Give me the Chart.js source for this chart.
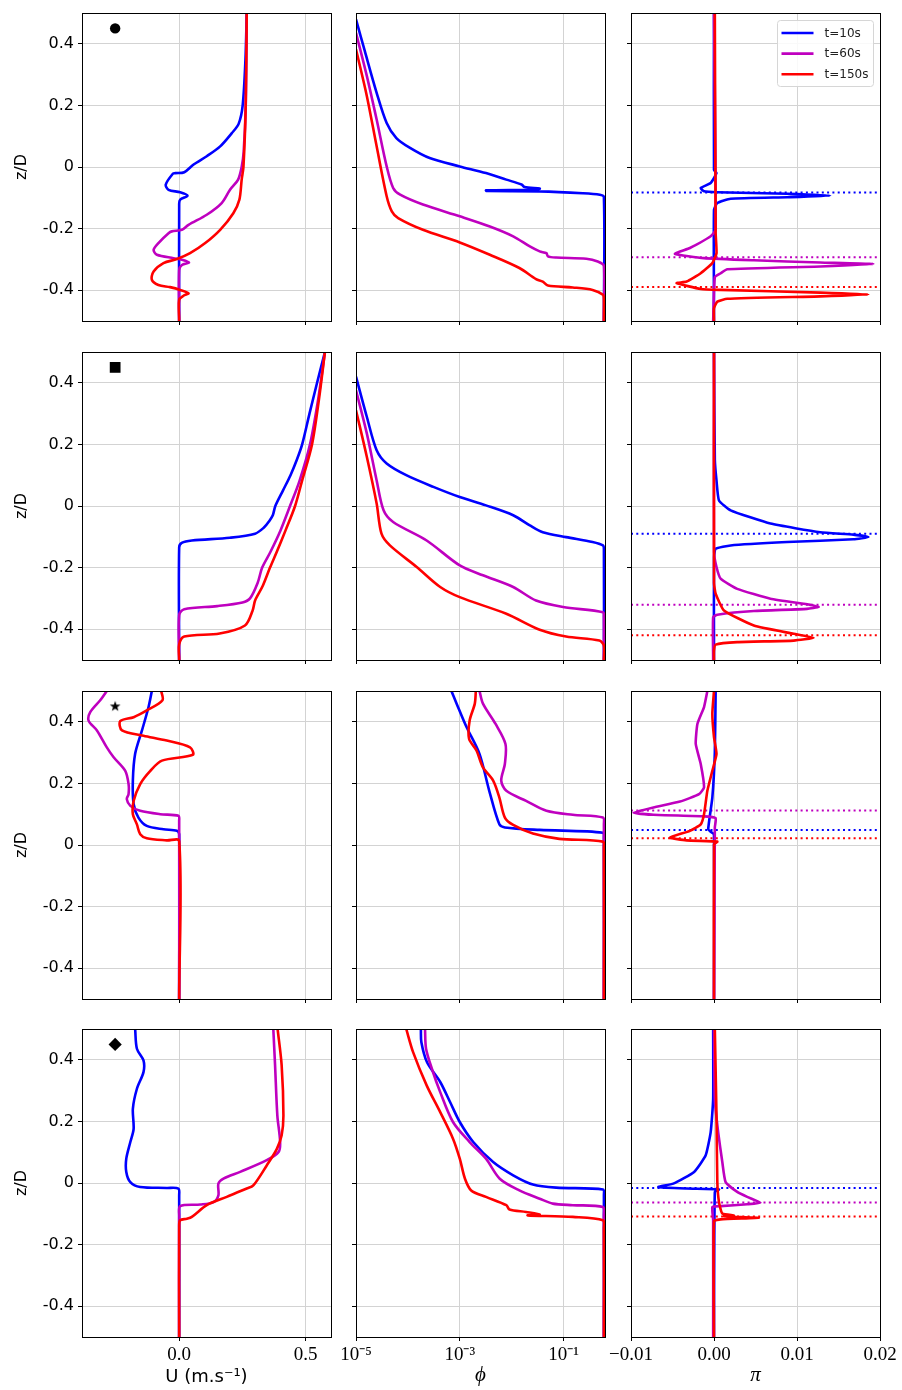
<!DOCTYPE html>
<html>
<head>
<meta charset="utf-8">
<script src="https://cdn.jsdelivr.net/npm/chart.js@4.4.1/dist/chart.umd.min.js"></script>
<style>
  body { margin: 0; background: #fff; width: 902px; height: 1390px; position: relative; overflow: hidden; }
  canvas { position: absolute; }
</style>
</head>
<body>
<script>
// ---- data (pairs are [value, z/D]) ----
const seriesLabels = ['t=10s', 't=60s', 't=150s'];
const seriesColors = ['#0000ff', '#bf00bf', '#ff0000'];

const zTicks = [-0.4, -0.2, 0, 0.2, 0.4];
const zTickLabels = ['-0.4', '-0.2', '0', '0.2', '0.4'];
const uTicks = [0, 0.5];
const uTickLabels = ['0.0', '0.5'];
const phiTicks = [1e-5, 1e-3, 1e-1];
const phiTickLabels = ['10⁻⁵', '10⁻³', '10⁻¹'];
const piTicks = [-0.01, 0, 0.01, 0.02];
const piTickLabels = ['−0.01', '0.00', '0.01', '0.02'];

// row 1 (circle)
const uC10 = [[0.267,0.5],[0.262,0.35],[0.251,0.2],[0.235,0.14],[0.208,0.11],[0.162,0.067],[0.109,0.035],[0.057,0.008],[0.02,-0.017],[-0.016,-0.02],[-0.025,-0.022],[-0.053,-0.057],[-0.042,-0.074],[0.004,-0.082],[0.033,-0.093],[0.004,-0.106],[0,-0.12],[0,-0.5]];
const uC60 = [[0.267,0.5],[0.263,0.2],[0.255,0.05],[0.247,0],[0.233,-0.041],[0.201,-0.074],[0.168,-0.117],[0.109,-0.155],[0.037,-0.188],[0.011,-0.204],[-0.029,-0.209],[-0.042,-0.215],[-0.082,-0.247],[-0.101,-0.269],[-0.088,-0.285],[-0.022,-0.296],[0.011,-0.301],[0.039,-0.31],[0.011,-0.318],[0,-0.334],[0,-0.5]];
const uC150 = [[0.267,0.5],[0.263,0.2],[0.254,0],[0.247,-0.041],[0.238,-0.106],[0.214,-0.15],[0.162,-0.204],[0.103,-0.247],[0.043,-0.28],[-0.009,-0.299],[-0.062,-0.312],[-0.101,-0.339],[-0.108,-0.366],[-0.082,-0.383],[-0.036,-0.39],[0.004,-0.399],[0.037,-0.41],[0.017,-0.418],[0,-0.431],[0,-0.5]];
const phiC10 = [[1.0e-5,0.479],[1.48e-5,0.376],[2.5e-5,0.241],[3.9e-5,0.143],[6.0e-5,0.094],[1.1e-4,0.062],[2.63e-4,0.029],[1.0e-3,0.002],[3.2e-3,-0.0195],[7.9e-3,-0.041],[1.55e-2,-0.057],[1.78e-2,-0.065],[3.47e-2,-0.07],[2.8e-2,-0.073],[3.2e-3,-0.076],[3.3e-3,-0.078],[3.47e-2,-0.079],[0.234,-0.085],[0.5,-0.09],[0.6,-0.097],[0.6,-0.5]];
const phiC60 = [[1.0e-5,0.436],[1.62e-5,0.295],[2.5e-5,0.154],[3.9e-5,0.002],[5.2e-5,-0.068],[7.1e-5,-0.09],[1.95e-4,-0.122],[1.0e-3,-0.16],[3.8e-3,-0.193],[1.07e-2,-0.225],[2.24e-2,-0.258],[3.47e-2,-0.274],[4.68e-2,-0.28],[5.0e-2,-0.29],[7.2e-2,-0.294],[0.275,-0.298],[0.457,-0.307],[0.6,-0.321],[0.6,-0.5]];
const phiC150 = [[1.0e-5,0.382],[1.62e-5,0.23],[2.5e-5,0.067],[3.9e-5,-0.095],[4.9e-5,-0.144],[6.5e-5,-0.166],[1.95e-4,-0.204],[1.0e-3,-0.245],[3.8e-3,-0.285],[1.41e-2,-0.328],[2.95e-2,-0.364],[3.98e-2,-0.372],[5.0e-2,-0.385],[0.151,-0.391],[0.363,-0.399],[0.575,-0.415],[0.6,-0.43],[0.6,-0.5]];
const piC10 = [[0,0.5],[0,-0.01],[0.0003,-0.0195],[-0.0004,-0.052],[-0.0016,-0.068],[-0.0012,-0.079],[0.0004,-0.082],[0.0088,-0.087],[0.014,-0.093],[0.0088,-0.098],[0.002,-0.103],[0.0004,-0.117],[0,-0.139],[0,-0.5]];
const piC60 = [[0,0.5],[0.0002,-0.204],[-0.0004,-0.225],[-0.0029,-0.263],[-0.0047,-0.282],[-0.0012,-0.296],[0.0048,-0.303],[0.0128,-0.31],[0.0192,-0.315],[0.0128,-0.323],[0.0016,-0.332],[0.0008,-0.345],[0.0001,-0.358],[-0.0001,-0.5]];
const piC150 = [[0.0001,0.5],[0.0002,-0.215],[0.0003,-0.28],[-0.0002,-0.312],[-0.0016,-0.345],[-0.0033,-0.372],[-0.0045,-0.377],[-0.0016,-0.396],[0.0008,-0.399],[0.0128,-0.408],[0.0186,-0.414],[0.0128,-0.42],[0.0016,-0.428],[0.0004,-0.437],[0,-0.459],[0,-0.5]];
const piLevC = [-0.083, -0.293, -0.39];

// row 2 (square)
const uS10 = [[0.576,0.5],[0.545,0.4],[0.515,0.3],[0.486,0.2],[0.465,0.15],[0.44,0.1],[0.41,0.05],[0.38,0.0],[0.37,-0.03],[0.355,-0.05],[0.335,-0.07],[0.3,-0.09],[0.2,-0.103],[0.05,-0.112],[0.01,-0.12],[0,-0.135],[0,-0.5]];
const uS60 = [[0.576,0.5],[0.55,0.35],[0.517,0.2],[0.475,0.08],[0.438,0],[0.4,-0.08],[0.36,-0.15],[0.328,-0.2],[0.31,-0.25],[0.28,-0.3],[0.25,-0.313],[0.15,-0.325],[0.02,-0.335],[0,-0.354],[0,-0.5]];
const uS150 = [[0.576,0.5],[0.553,0.35],[0.525,0.2],[0.485,0.08],[0.458,0],[0.42,-0.08],[0.385,-0.15],[0.359,-0.2],[0.33,-0.26],[0.3,-0.307],[0.29,-0.34],[0.26,-0.388],[0.16,-0.414],[0.02,-0.424],[0,-0.45],[0,-0.5]];
const phiS10 = [[1.0e-5,0.42],[1.62e-5,0.289],[2.5e-5,0.181],[3.9e-5,0.138],[9.3e-5,0.1],[3.1e-4,0.062],[1.0e-3,0.029],[3.2e-3,0.002],[1.07e-2,-0.03],[2.24e-2,-0.063],[3.98e-2,-0.085],[0.112,-0.101],[0.363,-0.117],[0.575,-0.128],[0.6,-0.14],[0.6,-0.5]];
const phiS60 = [[1.0e-5,0.376],[1.62e-5,0.235],[2.5e-5,0.083],[3.4e-5,-0.014],[5.2e-5,-0.052],[2.3e-4,-0.112],[1.0e-3,-0.193],[2.8e-3,-0.225],[1.07e-2,-0.263],[2.95e-2,-0.307],[9.8e-2,-0.328],[0.575,-0.345],[0.6,-0.36],[0.6,-0.5]];
const phiS150 = [[1.0e-5,0.311],[1.62e-5,0.159],[2.5e-5,0.008],[3.1e-5,-0.09],[4.5e-5,-0.128],[1.48e-4,-0.198],[4.2e-4,-0.263],[1.0e-3,-0.296],[7.9e-3,-0.35],[3.47e-2,-0.402],[0.112,-0.424],[0.49,-0.437],[0.6,-0.453],[0.6,-0.5]];
const piS10 = [[0,0.5],[0.0001,0.15],[0.0003,0.083],[0.0006,0.018],[0.002,-0.014],[0.0068,-0.057],[0.0128,-0.085],[0.0168,-0.093],[0.0186,-0.101],[0.0168,-0.108],[0.0088,-0.117],[0.002,-0.128],[0.0002,-0.139],[0,-0.166],[0,-0.5]];
const piS60 = [[0,0.5],[0,-0.15],[0.0003,-0.198],[0.0008,-0.236],[0.0028,-0.269],[0.0068,-0.301],[0.0116,-0.321],[0.0126,-0.328],[0.0112,-0.334],[0.0048,-0.341],[0.0004,-0.353],[-0.0001,-0.361],[-0.0001,-0.5]];
const piS150 = [[0,0.5],[0,-0.25],[0.0002,-0.285],[0.0012,-0.339],[0.0048,-0.388],[0.0096,-0.415],[0.012,-0.428],[0.0096,-0.437],[0.0028,-0.442],[0.0002,-0.45],[0,-0.47],[0,-0.5]];
const piLevS = [-0.09, -0.321, -0.42];

// row 3 (star)
const uT10 = [[-0.108,0.5],[-0.121,0.448],[-0.147,0.372],[-0.174,0.296],[-0.183,0.209],[-0.18,0.133],[-0.161,0.089],[-0.128,0.062],[-0.062,0.051],[-0.009,0.046],[0,0.035],[0,-0.5]];
const uT60 = [[-0.286,0.5],[-0.312,0.47],[-0.351,0.432],[-0.358,0.404],[-0.325,0.372],[-0.286,0.317],[-0.259,0.285],[-0.213,0.241],[-0.2,0.198],[-0.2,0.165],[-0.207,0.149],[-0.193,0.127],[-0.154,0.111],[-0.075,0.1],[-0.003,0.095],[0,0.078],[0,-0.5]];
const uT150 = [[-0.071,0.5],[-0.066,0.47],[-0.128,0.437],[-0.18,0.415],[-0.233,0.402],[-0.226,0.372],[-0.141,0.355],[-0.049,0.339],[0.043,0.317],[0.054,0.293],[-0.068,0.274],[-0.114,0.241],[-0.154,0.198],[-0.18,0.143],[-0.183,0.1],[-0.167,0.067],[-0.154,0.035],[-0.128,0.022],[-0.049,0.015],[0,0.013],[0,-0.5]];
const phiT10 = [[6.9e-4,0.5],[8.7e-4,0.459],[1.35e-3,0.383],[2.4e-3,0.296],[3.7e-3,0.176],[5.8e-3,0.067],[7.4e-3,0.057],[3.47e-2,0.049],[0.575,0.04],[0.6,0.024],[0.6,-0.5]];
const phiT60 = [[2.4e-3,0.5],[2.8e-3,0.459],[4.9e-3,0.393],[7.6e-3,0.328],[7.4e-3,0.263],[6.3e-3,0.209],[7.9e-3,0.176],[1.9e-2,0.143],[4.68e-2,0.111],[0.151,0.098],[0.575,0.089],[0.6,0.067],[0.6,-0.5]];
const phiT150 = [[2.04e-3,0.5],[1.95e-3,0.459],[1.55e-3,0.404],[1.51e-3,0.345],[2.1e-3,0.307],[2.8e-3,0.252],[4.4e-3,0.209],[5.8e-3,0.154],[7.4e-3,0.089],[1.07e-2,0.065],[2.57e-2,0.037],[8.3e-2,0.02],[0.575,0.011],[0.6,-0.009],[0.6,-0.5]];
const piT10 = [[0.0002,0.5],[0.0001,0.3],[-0.0002,0.154],[-0.0007,0.051],[-0.0004,0.043],[0,0.035],[0,-0.5]];
const piT60 = [[-0.0008,0.5],[-0.0012,0.448],[-0.002,0.393],[-0.0022,0.328],[-0.0016,0.263],[-0.0012,0.187],[-0.0018,0.165],[-0.0041,0.141],[-0.0073,0.122],[-0.0097,0.105],[-0.0073,0.098],[-0.0012,0.093],[0.0002,0.087],[0.0001,0.057],[0,-0.5]];
const piT150 = [[0,0.5],[-0.0002,0.426],[0,0.35],[0.0003,0.296],[-0.0002,0.241],[-0.0008,0.176],[-0.0012,0.1],[-0.0016,0.067],[-0.0029,0.046],[-0.0053,0.024],[-0.0033,0.015],[0.0004,0.011],[0,0.002],[0,-0.5]];
const piLevT = [0.049, 0.112, 0.022];

// row 4 (diamond)
const uD10 = [[-0.174,0.5],[-0.167,0.436],[-0.141,0.398],[-0.141,0.36],[-0.167,0.306],[-0.183,0.241],[-0.18,0.176],[-0.193,0.133],[-0.209,0.079],[-0.209,0.036],[-0.193,0.003],[-0.154,-0.013],[-0.049,-0.016],[-0.003,-0.018],[0,-0.04],[0,-0.5]];
const uD60 = [[0.372,0.5],[0.379,0.382],[0.388,0.219],[0.399,0.133],[0.393,0.101],[0.346,0.074],[0.241,0.036],[0.175,0.014],[0.155,-0.002],[0.155,-0.04],[0.136,-0.062],[0.083,-0.07],[0.004,-0.075],[0,-0.105],[0,-0.5]];
const uD150 = [[0.389,0.5],[0.405,0.382],[0.412,0.219],[0.405,0.155],[0.386,0.111],[0.346,0.057],[0.293,-0.008],[0.267,-0.018],[0.188,-0.045],[0.109,-0.072],[0.05,-0.11],[0.03,-0.116],[0.004,-0.121],[0,-0.137],[0,-0.5]];
const phiD10 = [[1.78e-4,0.5],[1.82e-4,0.457],[2.34e-4,0.392],[4.2e-4,0.328],[6.5e-4,0.263],[1.0e-3,0.198],[1.82e-3,0.133],[4.4e-3,0.068],[1.07e-2,0.025],[2.57e-2,-0.005],[7.2e-2,-0.015],[0.575,-0.021],[0.6,-0.04],[0.6,-0.5]];
const phiD60 = [[2.14e-4,0.5],[2.24e-4,0.436],[2.9e-4,0.371],[4.2e-4,0.295],[7.4e-4,0.198],[1.55e-3,0.133],[3.2e-3,0.079],[5.9e-3,0.014],[1.41e-2,-0.024],[3.47e-2,-0.051],[6.2e-2,-0.067],[0.151,-0.072],[0.575,-0.078],[0.6,-0.105],[0.6,-0.5]];
const phiD150 = [[9.3e-5,0.5],[1.26e-4,0.425],[2.3e-4,0.317],[4.2e-4,0.23],[7.4e-4,0.144],[1.0e-3,0.079],[1.26e-3,0.014],[1.66e-3,-0.024],[3.2e-3,-0.045],[7.9e-3,-0.072],[9.1e-3,-0.086],[1.9e-2,-0.094],[3.47e-2,-0.102],[2.04e-2,-0.105],[0.151,-0.11],[0.575,-0.121],[0.6,-0.148],[0.6,-0.5]];
const piD10 = [[-0.0001,0.5],[-0.0001,0.273],[-0.0004,0.165],[-0.001,0.09],[-0.0024,0.036],[-0.0049,-0.002],[-0.0067,-0.013],[-0.0033,-0.018],[0.0006,-0.021],[0.0001,-0.029],[0,-0.5]];
const piD60 = [[0,0.5],[0.0001,0.273],[0.0005,0.165],[0.001,0.068],[0.0014,0.003],[0.0028,-0.029],[0.004,-0.045],[0.0056,-0.064],[0.004,-0.069],[0.0008,-0.075],[-0.0002,-0.078],[-0.0001,-0.12],[-0.0001,-0.5]];
const piD150 = [[0.0001,0.5],[0.0003,0.219],[0.0004,0.003],[0.0006,-0.062],[0.001,-0.099],[0.0024,-0.105],[0.0012,-0.108],[0.0054,-0.113],[0.0008,-0.118],[0,-0.124],[0,-0.5]];
const piLevD = [-0.016, -0.063, -0.109];

// marker in the top-left corner of each U panel
const markerU = -0.253;
const markerZ = 0.45;

const uSeries = [[uC10, uC60, uC150], [uS10, uS60, uS150], [uT10, uT60, uT150], [uD10, uD60, uD150]];
const phiSeries = [[phiC10, phiC60, phiC150], [phiS10, phiS60, phiS150], [phiT10, phiT60, phiT150], [phiD10, phiD60, phiD150]];
const piSeries = [[piC10, piC60, piC150], [piS10, piS60, piS150], [piT10, piT60, piT150], [piD10, piD60, piD150]];
const piLevels = [piLevC, piLevS, piLevT, piLevD];

// ---- layout ----
const plotW = 249, plotH = 308;
const rowTops = [13, 352, 691, 1029];
const colLefts = [82, 356, 631];
const axisL = [82, 30, 30];
const padR = [20, 20, 24];
const padT = 16;
const axisB = [16, 16, 16, 53];
const gridColor = '#d3d3d3';
const colTension = [0.3, 0.3, 0.15];

Chart.defaults.font.family = 'DejaVu Sans';
Chart.defaults.color = '#000';

function starMarker(r) {
  const c = document.createElement('canvas');
  const s = Math.ceil(2 * r + 2);
  c.width = s; c.height = s;
  const g = c.getContext('2d');
  g.beginPath();
  for (let i = 0; i < 10; i++) {
    const a = -Math.PI / 2 + i * Math.PI / 5;
    const rr = i % 2 ? r * 0.4 : r;
    g.lineTo(s / 2 + rr * Math.cos(a), s / 2 + rr * Math.sin(a));
  }
  g.closePath();
  g.fillStyle = '#000';
  g.fill();
  return c;
}

const markers = [
  { style: 'circle', radius: 5.2 },
  { style: 'rect', radius: 7.6 },
  { style: starMarker(5.6), radius: 6 },
  { style: 'rectRot', radius: 6.6 }
];

const serif = 'Liberation Serif';
const columns = [
  { type: 'linear', min: -0.384, max: 0.6, ticks: uTicks, labels: uTickLabels, series: uSeries,
    title: 'U (m.s⁻¹)', titleFont: { family: 'DejaVu Sans', size: 18 } },
  { type: 'logarithmic', min: 1e-5, max: 0.63, ticks: phiTicks, labels: phiTickLabels, series: phiSeries,
    title: 'ϕ', titleFont: { family: serif, size: 21, style: 'italic' } },
  { type: 'linear', min: -0.01, max: 0.02, ticks: piTicks, labels: piTickLabels, series: piSeries,
    title: 'π', titleFont: { family: serif, size: 21, style: 'italic' } }
];

function toXY(pairs) {
  return pairs.map(p => ({ x: p[0], y: p[1] }));
}

const framePlugin = {
  id: 'frame',
  afterDatasetsDraw(chart) {
    const { ctx, chartArea: a } = chart;
    ctx.save();
    ctx.strokeStyle = '#000';
    ctx.lineWidth = 1;
    ctx.strokeRect(Math.round(a.left) + 0.5, Math.round(a.top) + 0.5, Math.round(a.right - a.left), Math.round(a.bottom - a.top));
    ctx.restore();
  }
};

const legendPlugin = {
  id: 'legendBox',
  afterDraw(chart, args, opts) {
    if (!opts.show) return;
    const { ctx, chartArea: a } = chart;
    const x0 = a.left + 146.5, y0 = a.top + 7.5, w = 96, h = 66, r = 3;
    ctx.save();
    ctx.beginPath();
    ctx.moveTo(x0 + r, y0);
    ctx.arcTo(x0 + w, y0, x0 + w, y0 + h, r);
    ctx.arcTo(x0 + w, y0 + h, x0, y0 + h, r);
    ctx.arcTo(x0, y0 + h, x0, y0, r);
    ctx.arcTo(x0, y0, x0 + w, y0, r);
    ctx.closePath();
    ctx.fillStyle = 'rgba(255,255,255,0.85)';
    ctx.fill();
    ctx.strokeStyle = '#d6d6d6';
    ctx.lineWidth = 1;
    ctx.stroke();
    const items = chart.data.datasets.filter(d => d.label);
    items.forEach((d, i) => {
      const y = y0 + 12.5 + i * 20.6;
      ctx.beginPath();
      ctx.moveTo(x0 + 4, y);
      ctx.lineTo(x0 + 36, y);
      ctx.strokeStyle = d.borderColor;
      ctx.lineWidth = 2.6;
      ctx.stroke();
      ctx.fillStyle = '#222';
      ctx.font = '12px "DejaVu Sans"';
      ctx.textBaseline = 'middle';
      ctx.fillText(d.label, x0 + 47, y + 0.5);
    });
    ctx.restore();
  }
};

for (let row = 0; row < 4; row++) {
  for (let col = 0; col < 3; col++) {
    const c = columns[col];
    const cv = document.createElement('canvas');
    const w = axisL[col] + plotW + padR[col];
    const h = padT + plotH + axisB[row];
    cv.width = w;
    cv.height = h;
    cv.style.width = w + 'px';
    cv.style.height = h + 'px';
    cv.style.left = (colLefts[col] - axisL[col]) + 'px';
    cv.style.top = (rowTops[row] - padT) + 'px';
    document.body.appendChild(cv);

    const datasets = c.series[row].map((s, i) => ({
      label: seriesLabels[i],
      data: toXY(s),
      borderColor: seriesColors[i],
      backgroundColor: seriesColors[i],
      borderWidth: 2.6,
      borderJoinStyle: 'round',
      pointRadius: 0,
      showLine: true,
      tension: colTension[col],
      order: 3 - i
    }));

    if (col === 2) {
      piLevels[row].forEach((z, i) => datasets.push({
        data: [{ x: c.min, y: z }, { x: c.max, y: z }],
        borderColor: seriesColors[i],
        borderWidth: 2,
        borderDash: [2, 3.3],
        pointRadius: 0,
        showLine: true,
        order: 10
      }));
    }
    if (col === 0) {
      const m = markers[row];
      datasets.push({
        data: [{ x: markerU, y: markerZ }],
        pointStyle: m.style,
        pointRadius: m.radius,
        backgroundColor: '#000',
        borderColor: '#000',
        borderWidth: 0,
        showLine: false,
        order: 0
      });
    }

    new Chart(cv, {
      type: 'scatter',
      data: { datasets },
      plugins: [framePlugin, legendPlugin],
      options: {
        responsive: false,
        animation: false,
        events: [],
        layout: { padding: { top: padT, right: padR[col], left: 0, bottom: 0 }, autoPadding: false },
        plugins: {
          legend: { display: false },
          tooltip: { enabled: false },
          legendBox: { show: row === 0 && col === 2 }
        },
        scales: {
          x: {
            type: c.type,
            position: 'bottom',
            min: c.min,
            max: c.max,
            border: { display: false },
            grid: { color: gridColor, lineWidth: 1, drawTicks: true, tickLength: 4, tickColor: '#000', tickWidth: 1 },
            ticks: {
              display: row === 3,
              autoSkip: false,
              maxRotation: 0,
              padding: 3,
              color: '#000',
              font: { family: serif, size: 19 },
              callback: (v, i) => c.labels[i]
            },
            afterBuildTicks: s => { s.ticks = c.ticks.map(v => ({ value: v })); },
            afterFit: s => { s.height = axisB[row]; },
            title: { display: row === 3, text: c.title, font: c.titleFont, color: '#000', padding: { top: 0, bottom: 2 } }
          },
          y: {
            type: 'linear',
            position: 'left',
            min: -0.5,
            max: 0.5,
            border: { display: false },
            grid: { color: gridColor, lineWidth: 1, drawTicks: true, tickLength: 4, tickColor: '#000', tickWidth: 1 },
            ticks: {
              display: col === 0,
              autoSkip: false,
              padding: 4,
              color: '#000',
              font: { family: 'DejaVu Sans', size: 16 },
              callback: (v, i) => zTickLabels[i]
            },
            afterBuildTicks: s => { s.ticks = zTicks.map(v => ({ value: v })); },
            afterFit: s => { s.width = axisL[col]; },
            title: { display: col === 0, text: 'z/D', font: { family: 'DejaVu Sans', size: 16 }, color: '#000', padding: { top: 12, bottom: 0 } }
          }
        }
      }
    });
  }
}
</script>
</body>
</html>
